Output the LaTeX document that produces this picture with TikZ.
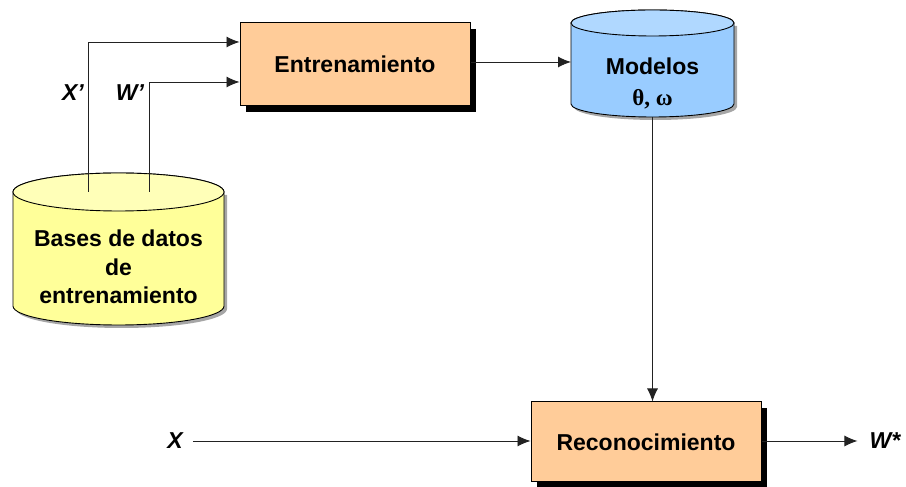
\documentclass[tikz,border=0pt]{standalone}
\usepackage{fontspec}
\setmainfont{Liberation Sans}
\newfontfamily\greekfont{Liberation Serif}
\usetikzlibrary{arrows.meta,shadows,calc}
\definecolor{peach}{HTML}{FFCC99}
\definecolor{dbbody}{HTML}{FFFF99}
\definecolor{dbtopc}{HTML}{FFFFB8}
\definecolor{modbody}{HTML}{99CCFF}
\definecolor{modtopc}{HTML}{B0D8FF}
\definecolor{linec}{HTML}{222222}
\tikzset{
  blockbox/.style={draw=black, line width=1pt, fill=peach, minimum width=230pt, minimum height=82pt,
    font=\fontsize{23}{28}\selectfont\bfseries,
    drop shadow={shadow xshift=6pt, shadow yshift=-6pt, fill=black, opacity=1}},
  cyltext/.style={align=center, font=\fontsize{23}{28.5}\selectfont\bfseries, inner sep=0pt},
  lbl/.style={font=\fontsize{23}{28}\selectfont\bfseries\itshape, inner sep=0pt},
  arr/.style={draw=linec, line width=0.9pt, -{Latex[length=13pt,width=11pt]}},
  conn/.style={draw=linec, line width=0.9pt},
  cylline/.style={draw=black, line width=0.9pt}
}
\begin{document}
\begin{tikzpicture}[x=1pt,y=1pt]
\useasboundingbox (0,0) rectangle (906,487);
% ---- Database cylinder (cx 118.5, rx 105.5, ry 19, top 295, bottom 181)
\fill[gray!70] (16,295+ -3) -- (16,178) arc[start angle=180,end angle=360,x radius=105.5,y radius=19] -- (227,292) -- cycle;
\path[cylline, fill=dbbody] (13,295) -- (13,181) arc[start angle=180,end angle=360,x radius=105.5,y radius=19] -- (224,295) arc[start angle=0,end angle=180,x radius=105.5,y radius=19] -- cycle;
\path[cylline, fill=dbtopc] (118.5,295) ellipse[x radius=105.5,y radius=19];
\node[cyltext] (db) at (118.5,220) {Bases de datos\\de\\entrenamiento};
\coordinate (dbtop) at (118.5,295);
% ---- Modelos cylinder (cx 652.5, rx 81.5, ry 13, top 464, bottom 383)
\fill[gray!70] (574,461) -- (574,380) arc[start angle=180,end angle=360,x radius=81.5,y radius=13] -- (737,461) -- cycle;
\path[cylline, fill=modbody] (571,464) -- (571,383) arc[start angle=180,end angle=360,x radius=81.5,y radius=13] -- (734,464) arc[start angle=0,end angle=180,x radius=81.5,y radius=13] -- cycle;
\path[cylline, fill=modtopc] (652.5,464) ellipse[x radius=81.5,y radius=13];
\node[cyltext, font=\fontsize{23}{31}\selectfont\bfseries] (mod) at (652.5,404) {Modelos\\{\greekfont θ, ω}};
\coordinate (modbot) at (652.5,370);
\coordinate (modleft) at (571,425);
% ---- Blocks
\node[blockbox, minimum height=83pt] (ent) at (355,422.5) {Entrenamiento};
\node[blockbox, minimum height=80pt] (rec) at (646,45) {Reconocimiento};
% ---- Labels
\node[lbl] (xp) at (73,394) {X’};
\node[lbl] (wp) at (130,394) {W’};
\node[lbl] (x) at (175,46) {X};
\node[lbl] (ws) at (885,46) {W*};
% ---- Connectors
\draw[arr] ($(dbtop)+(-30.5,0)$) |- ($(ent.west)+(0,22.5)$);
\draw[arr] ($(dbtop)+(30.5,0)$) |- ($(ent.west)+(0,-17.5)$);
\draw[arr] (ent.east |- modleft) -- (modleft);
\draw[arr] (modbot) -- (modbot |- rec.north);
\draw[arr] (x.east) ++(10,0) coordinate (xs) (xs) -- (xs -| rec.west);
\coordinate (wsend) at ($(ws.west)+(-12,0)$);
\draw[arr] (rec.east |- wsend) -- (wsend);
\end{tikzpicture}
\end{document}
